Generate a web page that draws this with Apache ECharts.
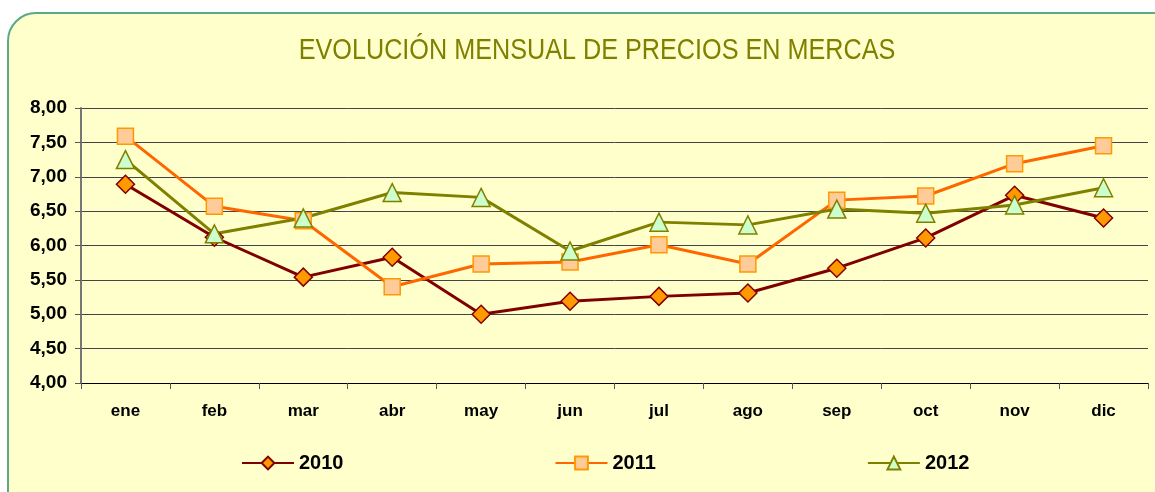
<!DOCTYPE html>
<html>
<head>
<meta charset="utf-8">
<script src="https://cdn.jsdelivr.net/npm/echarts@6/dist/echarts.min.js"></script>
<style>
  html, body { margin: 0; padding: 0; background: #ffffff; }
  #main { width: 1155px; height: 492px; }
</style>
</head>
<body>
<div id="main"></div>
<script>
// datos
var meses = ['ene', 'feb', 'mar', 'abr', 'may', 'jun', 'jul', 'ago', 'sep', 'oct', 'nov', 'dic'];
var precios2010 = [6.89, 6.12, 5.54, 5.83, 5.00, 5.19, 5.26, 5.31, 5.67, 6.11, 6.73, 6.40];
var precios2011 = [7.59, 6.57, 6.36, 5.40, 5.73, 5.76, 6.01, 5.73, 6.66, 6.72, 7.19, 7.45];
var precios2012 = [7.25, 6.17, 6.40, 6.77, 6.70, 5.92, 6.34, 6.30, 6.53, 6.47, 6.59, 6.84];
var titulo = 'EVOLUCIÓN MENSUAL DE PRECIOS EN MERCAS';

var chart = echarts.init(document.getElementById('main'));

var option = {
  animation: false,
  graphic: [
    {
      type: 'rect',
      z: -10,
      shape: { x: 8, y: 13, width: 1180, height: 510, r: 28 },
      style: { fill: '#FFFFCC', stroke: '#5BAA85', lineWidth: 2 }
    },
    {
      // título estrechado, como el Arial Narrow del original
      type: 'text',
      x: 597,
      y: 51,
      scaleX: 0.84,
      style: {
        text: titulo,
        align: 'center',
        verticalAlign: 'middle',
        font: 'normal 30px "Liberation Sans", Arial, sans-serif',
        fill: '#808000'
      }
    }
  ],
  legend: {
    bottom: 14,
    left: 236,
    itemGap: 211,
    itemWidth: 52,
    itemHeight: 16,
    textStyle: { fontFamily: 'Arial, "Liberation Sans", sans-serif', fontSize: 20, fontWeight: 'bold', color: '#000' },
    data: ['2010', '2011', '2012']
  },
  grid: { left: 81, right: 7, top: 108, bottom: 109 },
  xAxis: {
    type: 'category',
    data: meses,
    boundaryGap: true,
    axisLine: { lineStyle: { color: '#000', width: 1 } },
    axisTick: { show: true, length: 6, lineStyle: { color: '#555' } },
    axisLabel: {
      margin: 20,
      fontFamily: 'Arial, "Liberation Sans", sans-serif',
      fontSize: 17,
      fontWeight: 'bold',
      color: '#000'
    }
  },
  yAxis: {
    type: 'value',
    min: 4,
    max: 8,
    interval: 0.5,
    axisLine: { show: true, lineStyle: { color: '#777', width: 2 } },
    axisTick: { show: true, length: 6, lineStyle: { color: '#555' } },
    splitLine: { lineStyle: { color: '#444', width: 1 } },
    axisLabel: {
      margin: 14,
      fontFamily: 'Arial, "Liberation Sans", sans-serif',
      fontSize: 19,
      fontWeight: 'bold',
      color: '#000',
      formatter: function (v) { return v.toFixed(2).replace('.', ','); }
    }
  },
  series: [
    {
      name: '2010',
      type: 'line',
      data: precios2010,
      symbol: 'diamond',
      symbolSize: 18,
      lineStyle: { color: '#800000', width: 3 },
      itemStyle: { color: '#FF9900', borderColor: '#800000', borderWidth: 1.5 }
    },
    {
      name: '2011',
      type: 'line',
      data: precios2011,
      symbol: 'rect',
      symbolSize: 16,
      lineStyle: { color: '#FF6600', width: 3 },
      itemStyle: { color: '#FFCC99', borderColor: '#FF9900', borderWidth: 1.5 }
    },
    {
      name: '2012',
      type: 'line',
      data: precios2012,
      symbol: 'triangle',
      symbolSize: 18,
      lineStyle: { color: '#808000', width: 3 },
      itemStyle: { color: '#CCFFCC', borderColor: '#808000', borderWidth: 1.5 }
    }
  ]
};

chart.setOption(option);
</script>
</body>
</html>
